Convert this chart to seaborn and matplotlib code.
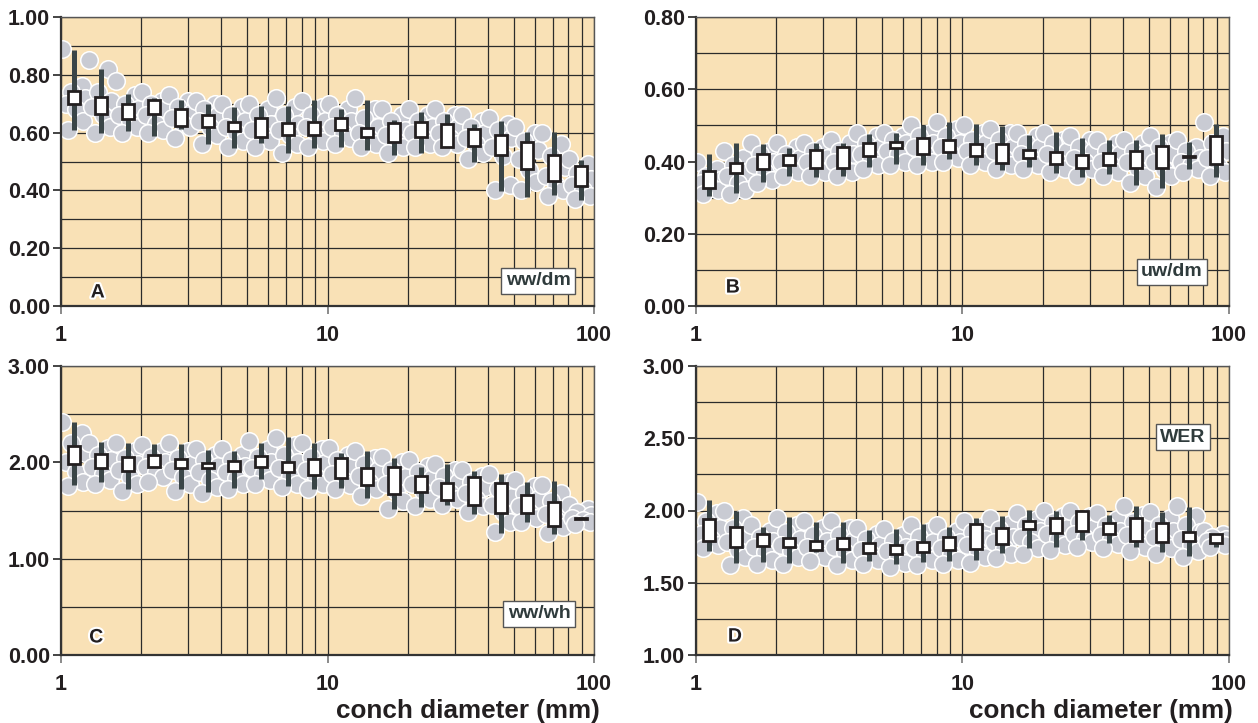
import numpy as np
import pandas as pd
import matplotlib
matplotlib.use("Agg")
import matplotlib.pyplot as plt
import matplotlib.patheffects as pe
from matplotlib.ticker import FixedLocator, FuncFormatter, LogLocator
import seaborn as sns

# ---------------- data ----------------
bin_centers = [1.12, 1.41, 1.78, 2.24, 2.82, 3.55, 4.47, 5.62, 7.08, 8.91,
               11.2, 14.1, 17.8, 22.4, 28.2, 35.5, 44.7, 56.2, 70.8, 89.1]

# panel A : ww/dm
a_wlo = [0.608, 0.599, 0.606, 0.588, 0.614, 0.562, 0.548, 0.565, 0.530, 0.547,
         0.551, 0.539, 0.522, 0.531, 0.551, 0.497, 0.399, 0.378, 0.384, 0.366]
a_whi = [0.887, 0.821, 0.733, 0.718, 0.712, 0.698, 0.687, 0.691, 0.691, 0.714,
         0.683, 0.714, 0.645, 0.672, 0.666, 0.631, 0.639, 0.603, 0.601, 0.505]
a_q1 = [0.700, 0.666, 0.646, 0.664, 0.622, 0.620, 0.606, 0.585, 0.591, 0.591,
        0.608, 0.585, 0.566, 0.585, 0.551, 0.554, 0.522, 0.473, 0.432, 0.415]
a_q3 = [0.744, 0.723, 0.698, 0.714, 0.680, 0.660, 0.637, 0.652, 0.634, 0.637,
        0.652, 0.617, 0.634, 0.637, 0.629, 0.611, 0.593, 0.566, 0.522, 0.485]
a_cloud = [
    [0.89, 0.76, 0.74, 0.72, 0.70, 0.68, 0.64, 0.61],
    [0.85, 0.82, 0.74, 0.71, 0.69, 0.66, 0.62, 0.60],
    [0.78, 0.73, 0.70, 0.68, 0.66, 0.64, 0.62, 0.60],
    [0.74, 0.71, 0.70, 0.68, 0.66, 0.63, 0.61, 0.60],
    [0.73, 0.71, 0.69, 0.67, 0.65, 0.63, 0.62, 0.58],
    [0.71, 0.70, 0.68, 0.66, 0.64, 0.62, 0.59, 0.56],
    [0.70, 0.69, 0.66, 0.64, 0.62, 0.60, 0.57, 0.55],
    [0.70, 0.68, 0.66, 0.63, 0.61, 0.59, 0.57, 0.55],
    [0.72, 0.69, 0.66, 0.63, 0.61, 0.59, 0.56, 0.53],
    [0.71, 0.69, 0.66, 0.64, 0.62, 0.60, 0.57, 0.55],
    [0.70, 0.68, 0.66, 0.64, 0.62, 0.60, 0.58, 0.56],
    [0.72, 0.68, 0.65, 0.62, 0.60, 0.58, 0.56, 0.55],
    [0.68, 0.66, 0.64, 0.61, 0.59, 0.57, 0.55, 0.53],
    [0.68, 0.66, 0.64, 0.62, 0.60, 0.58, 0.56, 0.55],
    [0.68, 0.66, 0.64, 0.62, 0.60, 0.58, 0.56, 0.55],
    [0.66, 0.64, 0.62, 0.60, 0.58, 0.56, 0.53, 0.51],
    [0.65, 0.63, 0.61, 0.58, 0.55, 0.52, 0.42, 0.40],
    [0.62, 0.60, 0.57, 0.54, 0.51, 0.47, 0.43, 0.40],
    [0.60, 0.56, 0.52, 0.48, 0.45, 0.42, 0.40, 0.38],
    [0.51, 0.49, 0.46, 0.44, 0.42, 0.40, 0.38, 0.37],
]

# panel B : uw/dm
b_wlo = [0.304, 0.313, 0.344, 0.359, 0.358, 0.359, 0.385, 0.393, 0.390, 0.408,
         0.390, 0.376, 0.385, 0.369, 0.358, 0.365, 0.335, 0.328, 0.378, 0.358]
b_whi = [0.422, 0.450, 0.448, 0.436, 0.450, 0.450, 0.476, 0.480, 0.500, 0.510,
         0.503, 0.498, 0.473, 0.482, 0.466, 0.459, 0.459, 0.476, 0.453, 0.505]
b_q1 = [0.328, 0.367, 0.378, 0.389, 0.383, 0.381, 0.415, 0.436, 0.422, 0.427,
        0.415, 0.397, 0.411, 0.393, 0.383, 0.389, 0.381, 0.381, 0.412, 0.394]
b_q3 = [0.374, 0.396, 0.420, 0.417, 0.433, 0.440, 0.452, 0.455, 0.466, 0.459,
        0.448, 0.448, 0.431, 0.427, 0.419, 0.424, 0.429, 0.443, 0.414, 0.470]
b_cloud = [
    [0.40, 0.38, 0.36, 0.35, 0.34, 0.33, 0.32, 0.31],
    [0.43, 0.41, 0.39, 0.37, 0.36, 0.34, 0.32, 0.31],
    [0.45, 0.43, 0.42, 0.40, 0.39, 0.37, 0.35, 0.34],
    [0.45, 0.44, 0.42, 0.41, 0.40, 0.38, 0.37, 0.36],
    [0.45, 0.44, 0.43, 0.41, 0.40, 0.38, 0.37, 0.36],
    [0.46, 0.45, 0.43, 0.42, 0.40, 0.38, 0.37, 0.36],
    [0.48, 0.47, 0.45, 0.44, 0.42, 0.41, 0.39, 0.38],
    [0.48, 0.47, 0.46, 0.45, 0.43, 0.42, 0.40, 0.39],
    [0.50, 0.48, 0.47, 0.45, 0.44, 0.42, 0.40, 0.39],
    [0.51, 0.49, 0.47, 0.45, 0.44, 0.42, 0.41, 0.40],
    [0.50, 0.48, 0.46, 0.45, 0.43, 0.42, 0.40, 0.39],
    [0.49, 0.48, 0.46, 0.44, 0.43, 0.41, 0.39, 0.38],
    [0.48, 0.47, 0.45, 0.44, 0.42, 0.41, 0.39, 0.38],
    [0.48, 0.46, 0.45, 0.43, 0.42, 0.40, 0.38, 0.37],
    [0.47, 0.46, 0.44, 0.43, 0.41, 0.40, 0.38, 0.36],
    [0.46, 0.45, 0.43, 0.42, 0.40, 0.39, 0.37, 0.36],
    [0.46, 0.45, 0.43, 0.42, 0.40, 0.38, 0.36, 0.34],
    [0.47, 0.45, 0.44, 0.42, 0.40, 0.38, 0.36, 0.33],
    [0.46, 0.44, 0.43, 0.41, 0.40, 0.39, 0.38, 0.37],
    [0.51, 0.47, 0.45, 0.43, 0.41, 0.39, 0.37, 0.36],
]

# panel C : ww/wh
c_wlo = [1.765, 1.799, 1.720, 1.955, 1.720, 1.696, 1.730, 1.823, 1.754, 1.720,
         1.730, 1.626, 1.512, 1.540, 1.557, 1.464, 1.270, 1.377, 1.253, 1.410]
c_whi = [2.422, 2.208, 2.197, 2.190, 2.187, 2.128, 2.118, 2.204, 2.260, 2.204,
         2.093, 2.121, 2.048, 1.955, 1.983, 1.910, 1.879, 1.792, 1.806, 1.430]
c_q1 = [1.983, 1.938, 1.913, 1.948, 1.938, 1.938, 1.910, 1.955, 1.896, 1.869,
        1.834, 1.765, 1.671, 1.696, 1.609, 1.557, 1.471, 1.474, 1.339, 1.415]
c_q3 = [2.173, 2.083, 2.059, 2.076, 2.035, 1.990, 2.014, 2.066, 2.007, 2.031,
        2.048, 1.938, 1.948, 1.858, 1.789, 1.844, 1.789, 1.661, 1.592, 1.425]
c_cloud = [
    [2.42, 2.30, 2.20, 2.10, 2.00, 1.90, 1.80, 1.75],
    [2.20, 2.15, 2.08, 2.02, 1.95, 1.88, 1.82, 1.78],
    [2.20, 2.12, 2.05, 1.98, 1.92, 1.85, 1.78, 1.70],
    [2.18, 2.12, 2.06, 2.00, 1.95, 1.90, 1.85, 1.80],
    [2.20, 2.12, 2.05, 1.98, 1.92, 1.85, 1.78, 1.70],
    [2.14, 2.08, 2.02, 1.96, 1.90, 1.82, 1.74, 1.68],
    [2.14, 2.08, 2.02, 1.96, 1.90, 1.84, 1.78, 1.72],
    [2.22, 2.14, 2.06, 2.00, 1.94, 1.88, 1.82, 1.78],
    [2.25, 2.18, 2.08, 2.00, 1.94, 1.86, 1.78, 1.74],
    [2.20, 2.14, 2.06, 1.99, 1.92, 1.85, 1.78, 1.72],
    [2.15, 2.08, 2.02, 1.95, 1.88, 1.82, 1.76, 1.72],
    [2.12, 2.05, 1.98, 1.92, 1.86, 1.80, 1.72, 1.65],
    [2.06, 2.00, 1.92, 1.85, 1.78, 1.70, 1.60, 1.52],
    [2.02, 1.96, 1.90, 1.84, 1.78, 1.70, 1.62, 1.55],
    [1.98, 1.92, 1.86, 1.80, 1.74, 1.68, 1.62, 1.56],
    [1.92, 1.86, 1.80, 1.74, 1.68, 1.62, 1.55, 1.48],
    [1.88, 1.80, 1.72, 1.64, 1.56, 1.48, 1.38, 1.28],
    [1.82, 1.75, 1.68, 1.62, 1.55, 1.48, 1.42, 1.38],
    [1.76, 1.68, 1.60, 1.52, 1.46, 1.40, 1.33, 1.27],
    [1.56, 1.52, 1.48, 1.45, 1.42, 1.40, 1.38, 1.36],
]

# panel D : WER
d_wlo = [1.722, 1.639, 1.641, 1.639, 1.715, 1.634, 1.653, 1.630, 1.641, 1.653,
         1.657, 1.704, 1.738, 1.750, 1.796, 1.773, 1.750, 1.715, 1.685, 1.750]
d_whi = [2.073, 1.997, 1.884, 1.957, 1.923, 1.923, 1.865, 1.870, 1.907, 1.888,
         1.946, 1.962, 2.003, 1.997, 2.003, 1.969, 2.033, 1.987, 2.027, 1.837]
d_q1 = [1.791, 1.745, 1.757, 1.750, 1.727, 1.734, 1.704, 1.697, 1.715, 1.727,
        1.734, 1.768, 1.870, 1.842, 1.858, 1.837, 1.791, 1.784, 1.791, 1.777]
d_q3 = [1.939, 1.884, 1.835, 1.807, 1.789, 1.807, 1.773, 1.761, 1.784, 1.819,
        1.907, 1.877, 1.930, 1.950, 1.997, 1.916, 1.950, 1.916, 1.854, 1.835]
d_cloud = [
    [2.06, 1.98, 1.93, 1.88, 1.84, 1.80, 1.76, 1.74],
    [2.00, 1.95, 1.88, 1.83, 1.78, 1.73, 1.68, 1.62],
    [1.90, 1.86, 1.82, 1.79, 1.75, 1.71, 1.66, 1.63],
    [1.95, 1.90, 1.85, 1.80, 1.76, 1.72, 1.68, 1.63],
    [1.93, 1.88, 1.83, 1.79, 1.75, 1.71, 1.68, 1.65],
    [1.93, 1.88, 1.83, 1.79, 1.75, 1.71, 1.66, 1.62],
    [1.88, 1.84, 1.80, 1.76, 1.73, 1.70, 1.66, 1.63],
    [1.87, 1.83, 1.79, 1.75, 1.72, 1.68, 1.64, 1.61],
    [1.90, 1.86, 1.82, 1.78, 1.74, 1.70, 1.66, 1.62],
    [1.90, 1.86, 1.82, 1.78, 1.74, 1.70, 1.66, 1.63],
    [1.93, 1.89, 1.85, 1.80, 1.76, 1.72, 1.68, 1.64],
    [1.95, 1.91, 1.87, 1.82, 1.78, 1.74, 1.70, 1.67],
    [1.98, 1.94, 1.90, 1.86, 1.82, 1.78, 1.74, 1.70],
    [2.00, 1.96, 1.92, 1.88, 1.84, 1.80, 1.76, 1.73],
    [2.00, 1.96, 1.92, 1.88, 1.84, 1.81, 1.78, 1.75],
    [1.98, 1.94, 1.90, 1.86, 1.83, 1.80, 1.77, 1.74],
    [2.03, 1.97, 1.92, 1.87, 1.83, 1.79, 1.75, 1.72],
    [1.99, 1.95, 1.90, 1.86, 1.82, 1.78, 1.74, 1.70],
    [2.03, 1.96, 1.90, 1.85, 1.80, 1.76, 1.72, 1.68],
    [1.86, 1.84, 1.82, 1.80, 1.79, 1.78, 1.76, 1.75],
]

panel_letters = ["A", "B", "C", "D"]
panel_names = ["ww/dm", "uw/dm", "ww/wh", "WER"]
x_tick_values = [1, 10, 100]
x_tick_labels = ["1", "10", "100"]
x_label = "conch diameter (mm)"

# ---------------- style ----------------
cloud_offsets = [-0.045, 0.028, -0.012, 0.040, -0.032, 0.008, 0.034, -0.022]  # decades

sns.set_style("ticks")
plt.rcParams['font.family'] = ['Liberation Sans', 'DejaVu Sans']
plt.rcParams['font.weight'] = 'bold'

BG = '#F9E1B6'
GRID = '#2b2b2b'
CLOUD = '#C9CBD3'
WHISK = '#3A4547'
TXT = '#231F20'
LBL = '#2F3B3C'

fig = plt.figure(figsize=(12.58, 7.23), dpi=100)
W, H = 1258, 723

def fig_rect(l, r, t, b):
    return [l / W, 1 - b / H, (r - l) / W, (b - t) / H]

rects = [fig_rect(61, 594, 17, 306), fig_rect(696, 1229, 17, 306),
         fig_rect(61, 594, 366, 655), fig_rect(696, 1229, 366, 655)]

panels = [
    dict(wlo=a_wlo, whi=a_whi, q1=a_q1, q3=a_q3, cloud=a_cloud,
         ylim=(0, 1.0), major=[0, 0.2, 0.4, 0.6, 0.8, 1.0], minor=[0.1, 0.3, 0.5, 0.7, 0.9],
         name_pos=(0.895, 0.087), letter_pos=(0.069, 0.045)),
    dict(wlo=b_wlo, whi=b_whi, q1=b_q1, q3=b_q3, cloud=b_cloud,
         ylim=(0, 0.8), major=[0, 0.2, 0.4, 0.6, 0.8], minor=[0.1, 0.3, 0.5, 0.7],
         name_pos=(0.893, 0.118), letter_pos=(0.069, 0.062)),
    dict(wlo=c_wlo, whi=c_whi, q1=c_q1, q3=c_q3, cloud=c_cloud,
         ylim=(0, 3.0), major=[0, 1, 2, 3], minor=[0.5, 1.5, 2.5],
         name_pos=(0.897, 0.142), letter_pos=(0.066, 0.059)),
    dict(wlo=d_wlo, whi=d_whi, q1=d_q1, q3=d_q3, cloud=d_cloud,
         ylim=(1.0, 3.0), major=[1.0, 1.5, 2.0, 2.5, 3.0], minor=[1.25, 1.75, 2.25, 2.75],
         name_pos=(0.914, 0.754), letter_pos=(0.073, 0.062)),
]

half_box = 0.0225  # decades

for i, (p, rect) in enumerate(zip(panels, rects)):
    ax = fig.add_axes(rect)
    ax.set_facecolor(BG)
    ax.set_xscale('log')
    ax.set_xlim(1, 100)
    ax.set_ylim(*p['ylim'])

    # cloud
    xs, ys = [], []
    for xc, vals in zip(bin_centers, p['cloud']):
        for k, v in enumerate(vals):
            xs.append(xc * 10 ** cloud_offsets[k % len(cloud_offsets)])
            ys.append(v)
    df = pd.DataFrame({'x': xs, 'y': ys})
    sns.scatterplot(data=df, x='x', y='y', ax=ax, s=160, color=CLOUD,
                    edgecolor='white', linewidth=1.1, zorder=2, legend=False)

    # whiskers
    ax.vlines(bin_centers, p['wlo'], p['whi'], color=WHISK, lw=3.6, zorder=3)

    # boxes
    xc = np.array(bin_centers)
    left = xc * 10 ** (-half_box)
    width = xc * 10 ** half_box - left
    q1 = np.array(p['q1'])
    q3 = np.array(p['q3'])
    ax.bar(left, q3 - q1, width=width, bottom=q1, align='edge',
           facecolor='white', edgecolor=TXT, linewidth=2.0, zorder=4)

    # grid
    ax.yaxis.set_major_locator(FixedLocator(p['major']))
    ax.yaxis.set_minor_locator(FixedLocator(p['minor']))
    ax.xaxis.set_major_locator(FixedLocator(x_tick_values))
    ax.xaxis.set_minor_locator(LogLocator(base=10, subs=np.arange(2, 10)))
    ax.xaxis.set_major_formatter(FuncFormatter(lambda v, pos: x_tick_labels[x_tick_values.index(int(round(v)))] if int(round(v)) in x_tick_values else ''))
    ax.xaxis.set_minor_formatter(FuncFormatter(lambda v, pos: ''))
    ax.yaxis.set_major_formatter(FuncFormatter(lambda v, pos: f"{v:.2f}"))
    ax.grid(which='both', axis='both', color=GRID, lw=0.9, zorder=0)
    ax.set_axisbelow(True)

    ax.tick_params(which='minor', length=0)
    ax.tick_params(axis='y', which='major', length=6, width=1.4, color='#444',
                   labelsize=15.5, labelcolor=TXT, pad=2)
    ax.tick_params(axis='x', which='major', length=6, width=1.2, color='#777',
                   labelsize=15.5, labelcolor=TXT, pad=8)
    for lab in ax.get_xticklabels() + ax.get_yticklabels():
        lab.set_fontweight('bold')

    for s in ['top', 'right']:
        ax.spines[s].set_color('#555')
        ax.spines[s].set_linewidth(1.0)
    for s in ['left', 'bottom']:
        ax.spines[s].set_color('#333')
        ax.spines[s].set_linewidth(1.6)

    ax.set_xlabel('')
    ax.set_ylabel('')

    # panel name box
    ax.text(p['name_pos'][0], p['name_pos'][1], panel_names[i], transform=ax.transAxes,
            ha='center', va='center', fontsize=14, fontweight='bold', color=LBL, zorder=6,
            bbox=dict(boxstyle='square,pad=0.22', fc='white', ec='#555', lw=1.0))
    # panel letter
    ax.text(p['letter_pos'][0], p['letter_pos'][1], panel_letters[i], transform=ax.transAxes,
            ha='center', va='center', fontsize=14, fontweight='bold', color=TXT, zorder=6,
            path_effects=[pe.withStroke(linewidth=3, foreground='white')])

fig.text(600 / W, 1 - 711 / H, x_label, ha='right', va='center', fontsize=18.8,
         fontweight='bold', color=TXT)
fig.text(1233 / W, 1 - 711 / H, x_label, ha='right', va='center', fontsize=18.8,
         fontweight='bold', color=TXT)

fig.savefig('out.png', dpi=100, facecolor='white')
